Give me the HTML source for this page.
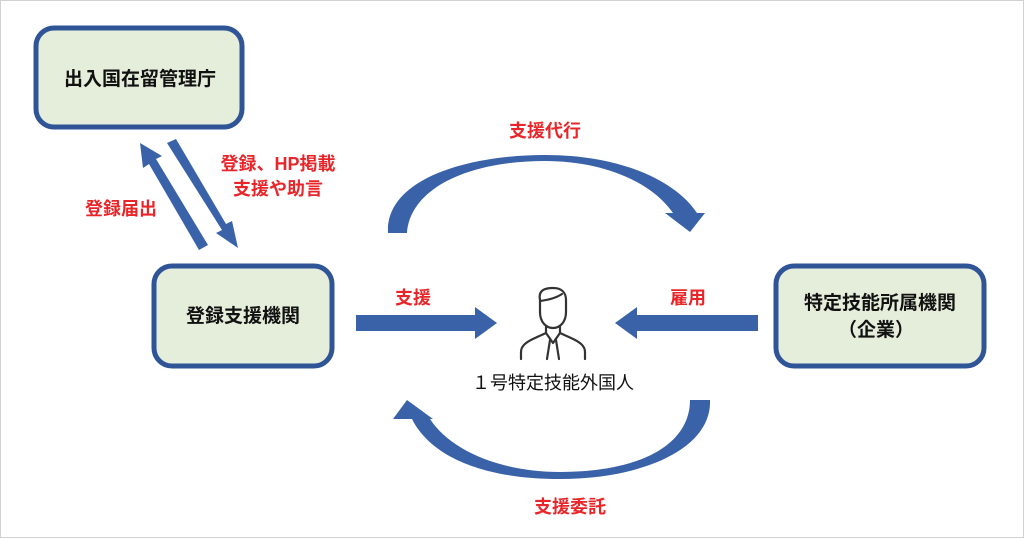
<!DOCTYPE html>
<html><head><meta charset="utf-8"><style>
html,body{margin:0;padding:0;background:#fff;}
svg{display:block;}
text{font-family:"Liberation Sans","Noto Sans CJK JP",sans-serif;}
.r{fill:#e8262a;font-weight:bold;font-size:18px;}
.b{fill:#111;font-size:19px;font-weight:bold;}
</style></head><body>
<svg width="1024" height="538" viewBox="0 0 1024 538" xmlns="http://www.w3.org/2000/svg">
<rect x="0.5" y="0.5" width="1023" height="537" fill="#fff" stroke="#d0d0d0"/>
<rect x="36" y="28" width="206" height="99" rx="18" fill="#e5eedb" stroke="#2f5597" stroke-width="5"/>
<rect x="154" y="266" width="178" height="100" rx="18" fill="#e5eedb" stroke="#2f5597" stroke-width="5"/>
<rect x="776" y="266" width="208" height="100" rx="18" fill="#e5eedb" stroke="#2f5597" stroke-width="5"/>
<text class="b" x="140" y="85" text-anchor="middle">出入国在留管理庁</text>
<text class="b" x="243" y="322" text-anchor="middle">登録支援機関</text>
<text class="b" x="880" y="309" text-anchor="middle">特定技能所属機関</text>
<text class="b" x="876" y="336" text-anchor="middle">（企業）</text>
<g fill="#3a62a8">
<polygon points="208,245 199,250 149,164 143,168 140,143 162,156 156,159"/>
<polygon points="167,143 176,139 226,224 232,221 238,248 216,233 222,230"/>
<polygon points="356,315 475,315 475,307 497,323 475,339 475,331 356,331"/>
<polygon points="758,315 637,315 637,307 615,323 637,339 637,331 758,331"/>
<path d="M388,233 C385,180 465,155 545,155 C620,155 675,180 697,213 L705,213 L690,232 L665,213 L673,213 C650,180 600,161 545,161 C465,161 410,190 407,233 Z"/>
<path d="M710,400 C712,450 640,479 560,479 C480,479 430,455 412,419 L393,419 L407,400 L433,419 L430,419 C450,450 500,472 560,472 C640,472 690,445 690,400 Z"/>
</g>
<g fill="none" stroke="#333" stroke-width="2.2" stroke-linejoin="round" stroke-linecap="round">
<path d="M540,300 C538,290 545,288 553,288 C562,288 566,293 566,300 L566,312 C566,322 560,328 553,328 C546,328 540,322 540,312 Z"/>
<path d="M540,301 C548,300 556,298 562,294"/>
<path d="M546,327 L546,333 L535,338 C526,342 521,346 521,352 L521,359"/>
<path d="M560,327 L560,333 L571,338 C580,342 585,346 585,352 L585,359"/>
<path d="M546,333 L553,343 L560,333"/>
<path d="M550,340 L547,359 M556,340 L559,359"/>
</g>
<text x="553" y="389" text-anchor="middle" style="font-size:18px;fill:#111">１号特定技能外国人</text>
<text class="r" x="545" y="137" text-anchor="middle">支援代行</text>
<text class="r" x="413" y="304" text-anchor="middle">支援</text>
<text class="r" x="688" y="304" text-anchor="middle">雇用</text>
<text class="r" x="570" y="513" text-anchor="middle">支援委託</text>
<text class="r" x="121" y="215" text-anchor="middle">登録届出</text>
<text class="r" x="278" y="170" text-anchor="middle">登録、HP掲載</text>
<text class="r" x="278" y="195" text-anchor="middle">支援や助言</text>
</svg>
</body></html>
